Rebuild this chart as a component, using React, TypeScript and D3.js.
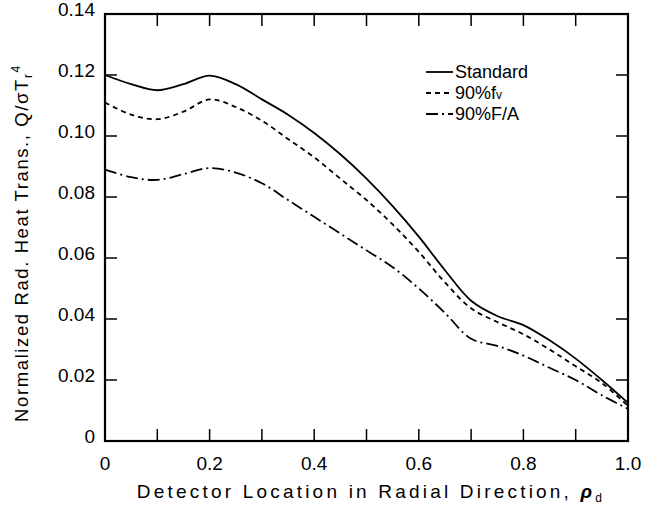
import React from "react";
import * as d3 from "d3";

const xs = [0, 0.05, 0.1, 0.15, 0.2, 0.25, 0.3, 0.35, 0.4, 0.45, 0.5, 0.55, 0.6, 0.65, 0.7, 0.75, 0.8, 0.85, 0.9, 0.95, 1.0];
const standard = [0.12, 0.117, 0.115, 0.117, 0.1198, 0.117, 0.112, 0.107, 0.101, 0.094, 0.086, 0.077, 0.067, 0.056, 0.046, 0.041, 0.038, 0.033, 0.027, 0.02, 0.0125];
const fv90 = [0.111, 0.107, 0.1055, 0.108, 0.112, 0.1095, 0.105, 0.099, 0.093, 0.086, 0.079, 0.071, 0.062, 0.052, 0.0435, 0.039, 0.035, 0.03, 0.0245, 0.019, 0.0115];
const fa90 = [0.089, 0.0865, 0.0856, 0.0875, 0.0895, 0.088, 0.0845, 0.079, 0.0735, 0.068, 0.0625, 0.057, 0.05, 0.042, 0.0335, 0.0312, 0.028, 0.024, 0.02, 0.015, 0.0105];
const xTickLabels = ["0", "0.2", "0.4", "0.6", "0.8", "1.0"];
const yTickLabels = ["0", "0.02", "0.04", "0.06", "0.08", "0.10", "0.12", "0.14"];
const seriesNames = ["Standard", "90%f", "90%F/A"];

const W = 652, H = 507;
const L = 105, R = 628, T = 14, B = 441;
const font = "'Liberation Sans', Arial, sans-serif";

export default function App() {
  const x = d3.scaleLinear().domain([0, 1]).range([L, R]);
  const y = d3.scaleLinear().domain([0, 0.14]).range([B, T]);
  const line = d3.line<number>().x((_, i) => x(xs[i])).y((d) => y(d)).curve(d3.curveCatmullRom.alpha(0.5));
  const series = [
    { v: standard, dash: "" },
    { v: fv90, dash: "5,4" },
    { v: fa90, dash: "12,4,2,4" },
  ];
  const minorX = d3.range(0, 11).map((i) => i / 10);
  const yTicks = yTickLabels.map((t) => +t);
  const legY = [72, 93, 114];
  return (
    <svg width={W} height={H} style={{ position: "absolute", left: 0, top: 0, background: "#fff" }} fontFamily={font}>
      <rect x={L} y={T} width={R - L} height={B - T} fill="none" stroke="#000" strokeWidth={2.2} />
      {minorX.slice(1, 10).map((t) => (
        <g key={"xt" + t}>
          <line x1={x(t)} x2={x(t)} y1={B} y2={B - 12} stroke="#000" strokeWidth={1.5} />
          <line x1={x(t)} x2={x(t)} y1={T} y2={T + 12} stroke="#000" strokeWidth={1.5} />
        </g>
      ))}
      {yTicks.slice(1, 7).map((t) => (
        <g key={"yt" + t}>
          <line x1={L} x2={L + 12} y1={y(t)} y2={y(t)} stroke="#000" strokeWidth={1.5} />
          <line x1={R} x2={R - 12} y1={y(t)} y2={y(t)} stroke="#000" strokeWidth={1.5} />
        </g>
      ))}
      {xTickLabels.map((s) => (
        <text key={"xl" + s} x={x(+s)} y={470} fontSize={19} textAnchor="middle">{s}</text>
      ))}
      {yTickLabels.map((s) => (
        <text key={"yl" + s} x={95} y={y(+s) - 3} fontSize={19} textAnchor="end" dominantBaseline="middle">{s}</text>
      ))}
      {series.map((s, i) => (
        <path key={"s" + i} d={line(s.v) || ""} fill="none" stroke="#000" strokeWidth={1.8} strokeDasharray={s.dash} />
      ))}
      {series.map((s, i) => (
        <g key={"lg" + i}>
          <line x1={426} x2={453} y1={legY[i]} y2={legY[i]} stroke="#000" strokeWidth={1.8} strokeDasharray={s.dash} />
          <text x={455} y={legY[i] + 1} fontSize={18} dominantBaseline="middle">
            {seriesNames[i]}
            {i === 1 ? <tspan fontSize={12} dy={2}>v</tspan> : null}
          </text>
        </g>
      ))}
      <text x={371} y={498} fontSize={19} textAnchor="middle" letterSpacing={3.2}>
        Detector Location in Radial Direction, <tspan fontStyle="italic" fontWeight="bold">ρ</tspan><tspan fontSize={12} dy={4}>d</tspan>
      </text>
      <text transform={`translate(28,243) rotate(-90)`} fontSize={18.5} textAnchor="middle" letterSpacing={1.6}>
        Normalized Rad. Heat Trans., Q/σT<tspan fontSize={12} dy={4}>r</tspan><tspan fontSize={12} dy={-12}>4</tspan>
      </text>
    </svg>
  );
}
